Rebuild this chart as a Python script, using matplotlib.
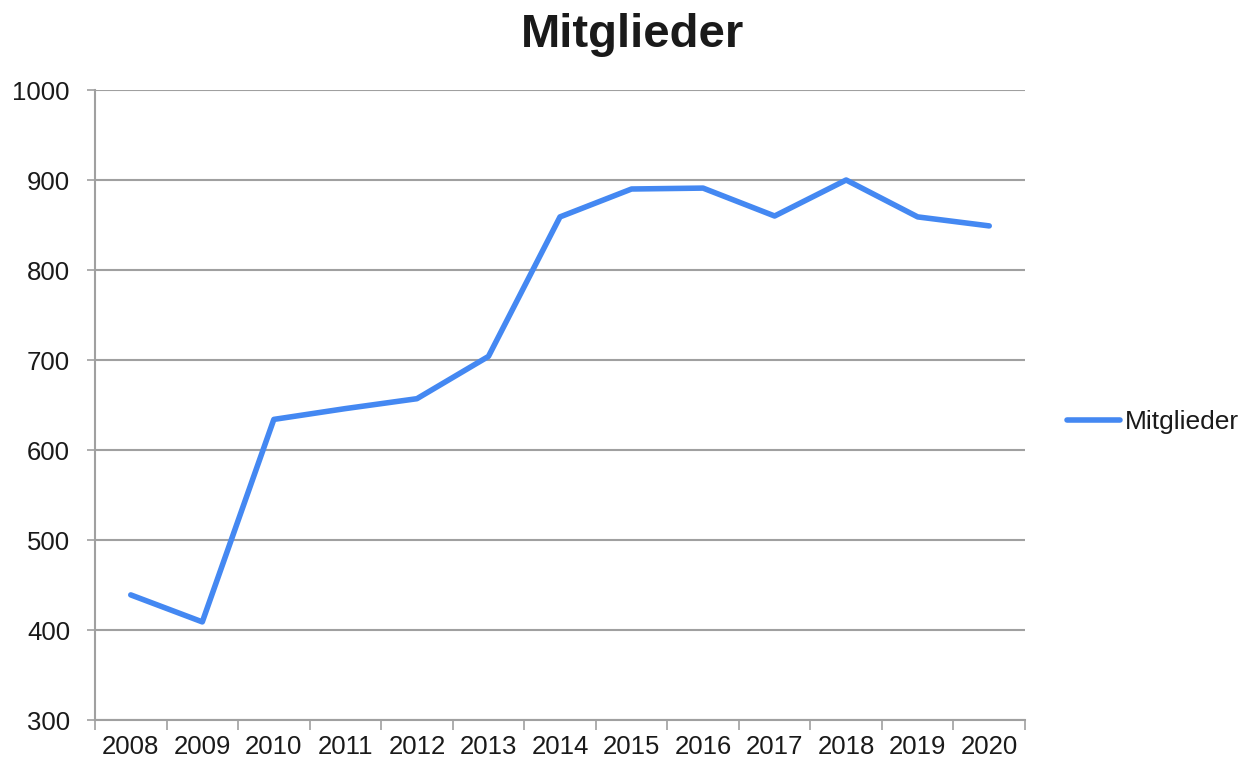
import numpy as np
from matplotlib import pyplot as plt

plt.rcParams['font.family'] = ['Liberation Sans', 'DejaVu Sans']

years = ["2008", "2009", "2010", "2011", "2012", "2013", "2014",
         "2015", "2016", "2017", "2018", "2019", "2020"]
mitglieder = [439, 409, 634, 646, 657, 704, 859, 890, 891, 860, 900, 859, 849]
yticks = [300, 400, 500, 600, 700, 800, 900, 1000]

grid_col = "#a0a0a0"
line_col = "#4488f2"

fig = plt.figure(figsize=(12.44, 7.66), dpi=100)
ax = fig.add_axes([95/1244, 1-720/766, 930/1244, 630/766])

x = np.arange(len(years))
ax.plot(x, mitglieder, color=line_col, lw=4, solid_capstyle="round",
        solid_joinstyle="round", label="Mitglieder", zorder=3)

ax.set_xlim(-0.5, len(years) - 0.5)
ax.set_ylim(300, 1000)
ax.set_yticks(yticks)
ax.set_xticks(x)
ax.set_xticklabels(years)
ax.set_xticks(np.arange(len(years) + 1) - 0.5, minor=True)

ax.grid(axis="y", color=grid_col, lw=1.5)
ax.set_axisbelow(True)
for s in ["top", "right"]:
    ax.spines[s].set_visible(False)
for s in ["left", "bottom"]:
    ax.spines[s].set_color(grid_col)
    ax.spines[s].set_linewidth(1.5)

ax.tick_params(axis="x", which="major", length=0, pad=11, labelsize=18.5, labelcolor="#1a1a1a")
ax.tick_params(axis="x", which="minor", length=7, width=1.2, color=grid_col)
ax.tick_params(axis="y", length=6, width=1.2, color=grid_col, pad=12, labelsize=18.5, labelcolor="#1a1a1a")

fig.text(632/1244, 1-35/766, "Mitglieder", ha="center", va="center",
         fontsize=34, fontweight="bold", color="#1a1a1a")

ax.legend(loc="center left", bbox_to_anchor=((1067-95)/930, (720-422)/630),
          frameon=False, fontsize=19, handlelength=2.0, handletextpad=0.2,
          borderpad=0, borderaxespad=0, labelcolor="#1a1a1a")

plt.savefig("out.png", dpi=100)
